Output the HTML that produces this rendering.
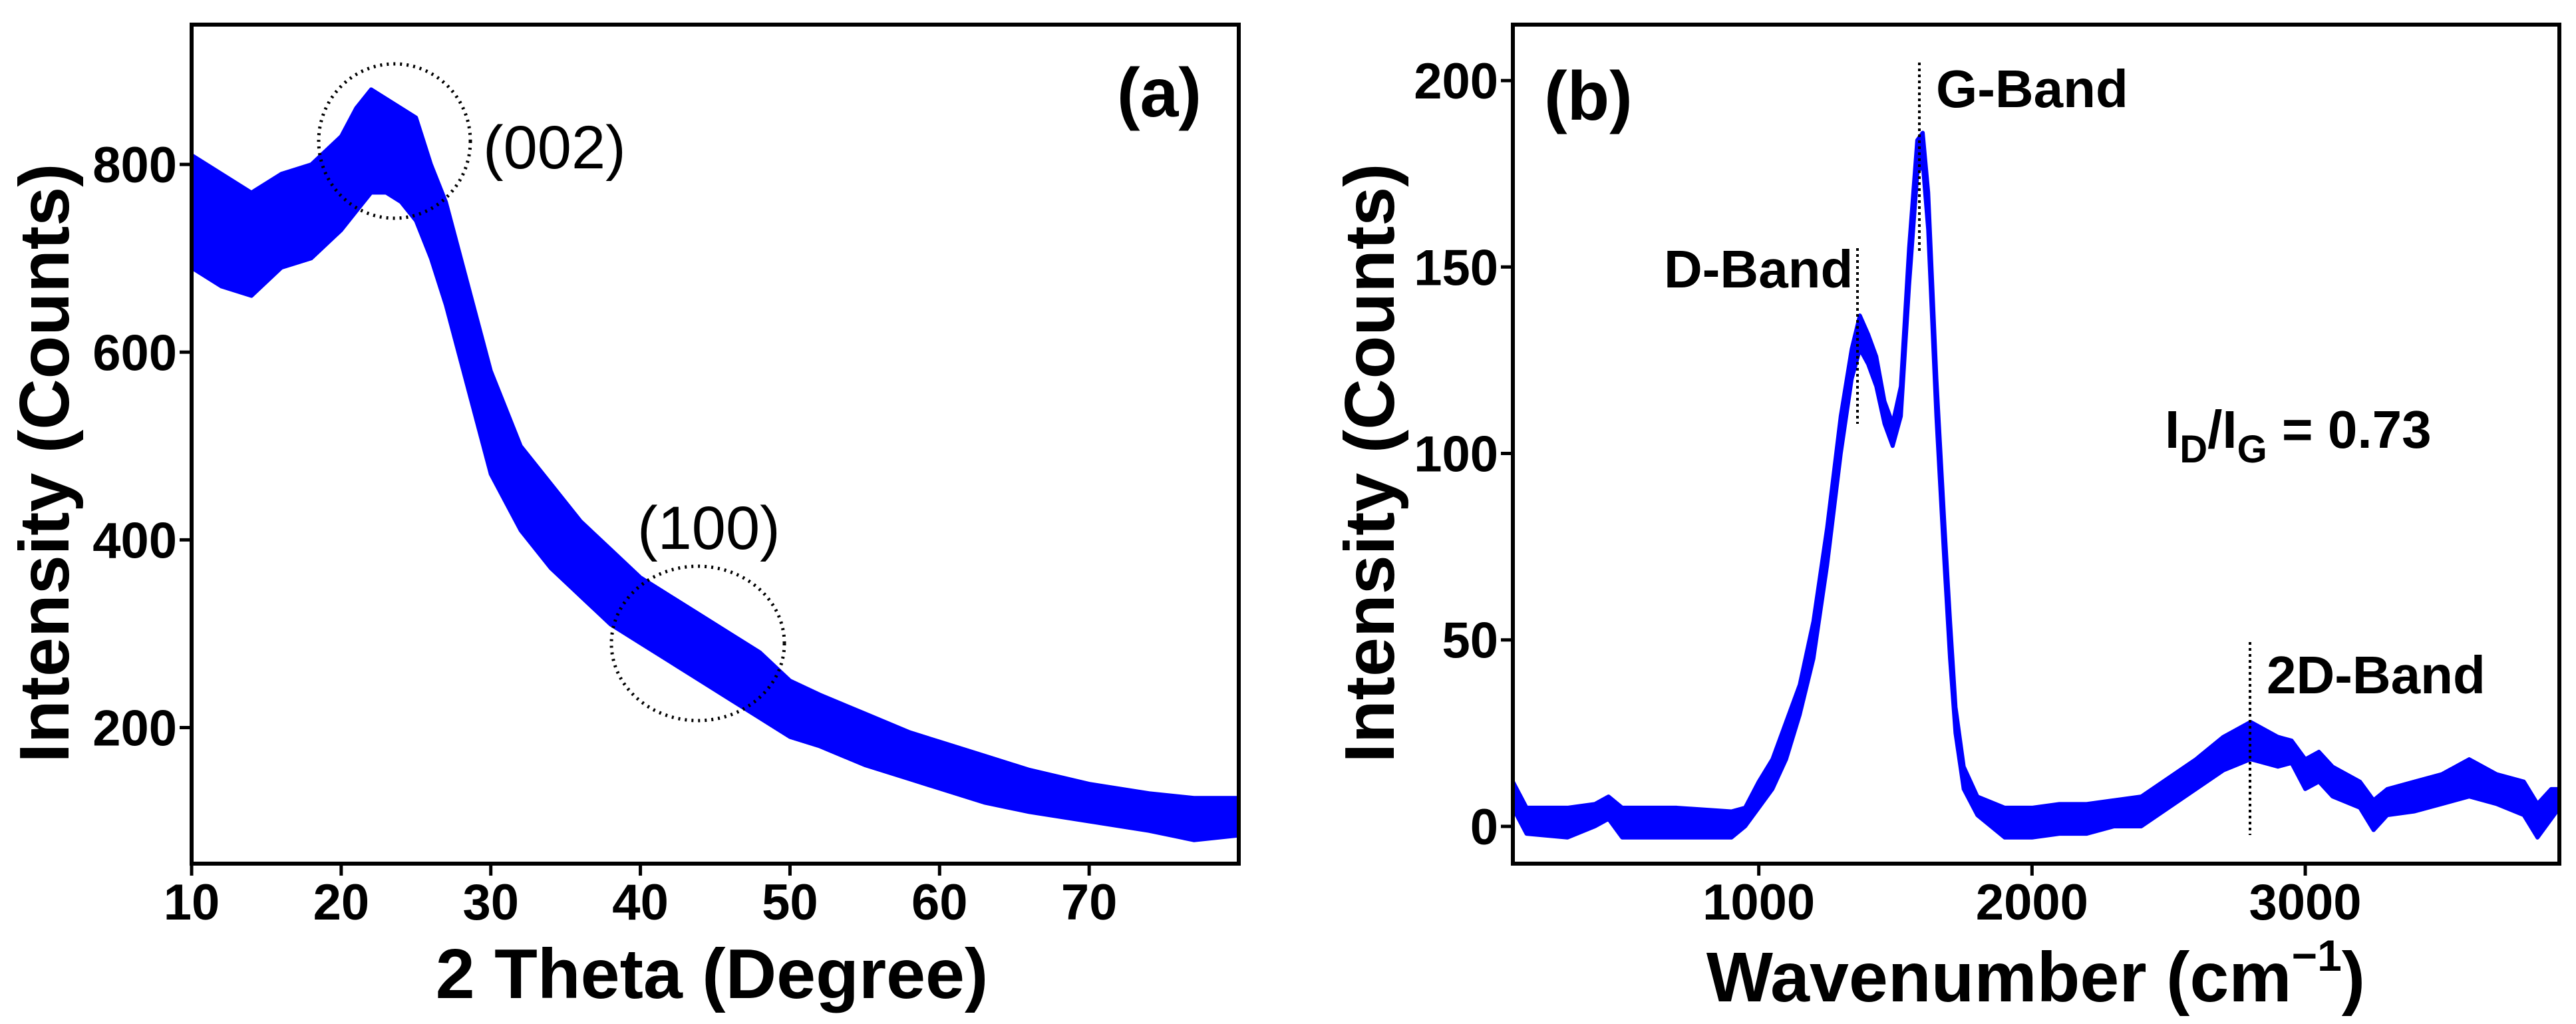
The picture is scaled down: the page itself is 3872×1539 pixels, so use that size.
<!DOCTYPE html>
<html><head><meta charset="utf-8"><style>
html,body{margin:0;padding:0;background:#fff;}
svg{display:block;font-family:"Liberation Sans",Arial,sans-serif;}
</style></head><body>
<svg id="fig" width="3872" height="1539" viewBox="0 0 3872 1539" xmlns="http://www.w3.org/2000/svg">
<rect width="3872" height="1539" fill="#fff"/>
<g id="pa"></g>
<g id="pb"></g>
<g>
<ellipse cx="593" cy="212" rx="114" ry="116" fill="none" stroke="#000" stroke-width="5" stroke-dasharray="3,7"/>
<ellipse cx="1049" cy="967" rx="130" ry="116" fill="none" stroke="#000" stroke-width="5" stroke-dasharray="3,7"/>
<text x="726" y="253" font-size="92">(002)</text>
<text x="958" y="825" font-size="92">(100)</text>
<text x="1806" y="175" font-size="104" font-weight="bold" text-anchor="end">(a)</text>
<text transform="translate(103,696) rotate(-90)" font-size="106" font-weight="bold" text-anchor="middle">Intensity (Counts)</text>
<text x="1070" y="1500" font-size="106" font-weight="bold" text-anchor="middle">2 Theta (Degree)</text>
</g>
<g>
<line x1="2885" y1="94" x2="2885" y2="380" stroke="#000" stroke-width="4" stroke-dasharray="4,5"/>
<line x1="2792" y1="373" x2="2792" y2="637" stroke="#000" stroke-width="4" stroke-dasharray="4,5"/>
<line x1="3382" y1="965" x2="3382" y2="1255" stroke="#000" stroke-width="4" stroke-dasharray="4,5"/>
<text x="2321" y="180" font-size="104" font-weight="bold">(b)</text>
<text x="2910" y="161" font-size="80" font-weight="bold">G-Band</text>
<text x="2501" y="432" font-size="80" font-weight="bold">D-Band</text>
<text x="3407" y="1042" font-size="80" font-weight="bold">2D-Band</text>
<text x="3254" y="673" font-size="80" font-weight="bold">I<tspan font-size="58" dy="22">D</tspan><tspan dy="-22">/I</tspan><tspan font-size="58" dy="22">G</tspan><tspan dy="-22"> = 0.73</tspan></text>
<text transform="translate(2095,696) rotate(-90)" font-size="106" font-weight="bold" text-anchor="middle">Intensity (Counts)</text>
<text x="3060" y="1505" font-size="106" font-weight="bold" text-anchor="middle">Wavenumber (cm<tspan font-size="66" dy="-46">−1</tspan><tspan dy="46">)</tspan></text>
</g>
</svg>
<script>
// Panel (a) XRD data: envelope of noisy trace
const xrdX  = [10,12,14,16,18,20,21,22,23,24,25,26,27,28,29,30,31,32,34,36,38,40,42,44,46,48,50,52,55,58,60,63,66,70,74,77,80];
const xrdLo = [690,670,660,690,700,730,750,770,770,760,740,700,650,590,530,470,440,410,370,340,310,290,270,250,230,210,190,180,160,145,135,120,110,100,90,80,85];
const xrdHi = [810,790,770,790,800,830,860,880,870,860,850,800,760,700,640,580,540,500,460,420,390,360,340,320,300,280,250,235,215,195,185,170,155,140,130,125,125];
const xrdXTicks = [10,20,30,40,50,60,70];
const xrdYTicks = [200,400,600,800];
// Panel (b) Raman data envelope
const ramX  = [100,150,300,400,450,500,700,900,950,1000,1050,1100,1150,1200,1250,1300,1340,1370,1400,1430,1460,1490,1520,1550,1580,1600,1620,1650,1680,1700,1720,1750,1800,1900,2000,2100,2200,2300,2400,2500,2600,2700,2800,2900,2950,3000,3050,3100,3200,3250,3300,3400,3500,3600,3700,3800,3850,3900,3930];
const ramLo = [5,-2,-3,0,2,-3,-3,-3,0,5,10,18,30,45,70,100,120,128,124,118,108,102,110,145,175,178,160,110,70,45,25,10,3,-3,-3,-2,-2,0,0,5,10,15,18,16,17,10,12,8,5,-1,3,4,6,8,6,3,-3,2,5];
const ramHi = [12,5,5,6,8,5,5,4,5,12,18,28,38,55,80,110,128,137,132,126,114,108,118,155,184,186,170,120,80,55,32,16,8,5,5,6,6,7,8,13,18,24,28,24,23,18,20,16,12,7,10,12,14,18,14,12,6,10,10];
const ramXTicks = [1000,2000,3000];
const ramYTicks = [0,50,100,150,200];

const NS="http://www.w3.org/2000/svg";
function mk(parent,tag,attrs){const e=document.createElementNS(NS,tag);for(const k in attrs)e.setAttribute(k,attrs[k]);parent.appendChild(e);return e;}

function panel(g, box, xr, yr, X, LO, HI, xt, yt){
  const sx=v=>box.l+(v-xr[0])/(xr[1]-xr[0])*(box.r-box.l);
  const sy=v=>box.b-(v-yr[0])/(yr[1]-yr[0])*(box.b-box.t);
  let d="M"+sx(X[0])+","+sy(HI[0]);
  for(let i=1;i<X.length;i++) d+="L"+sx(X[i])+","+sy(HI[i]);
  for(let i=X.length-1;i>=0;i--) d+="L"+sx(X[i])+","+sy(LO[i]);
  d+="Z";
  const p=mk(g,"path",{d:d,fill:"#0000ff",stroke:"#0000ff","stroke-width":6,"stroke-linejoin":"round"});
  
  
  const fr=mk(g,"rect",{x:box.l,y:box.t,width:box.r-box.l,height:box.b-box.t,fill:"none",stroke:"#000","stroke-width":6});
  
  
  xt.forEach(v=>{
    const t=mk(g,"line",{x1:sx(v),x2:sx(v),y1:box.b,y2:box.b+18,stroke:"#000","stroke-width":5});
    
    
    const l=mk(g,"text",{x:sx(v),y:box.b+84,"font-size":76,"font-weight":"bold","text-anchor":"middle"});
    l.textContent=v;
    
    
  });
  yt.forEach(v=>{
    const t=mk(g,"line",{x1:box.l-18,x2:box.l,y1:sy(v),y2:sy(v),stroke:"#000","stroke-width":5});
    
    
    const l=mk(g,"text",{x:box.l-22,y:sy(v)+27,"font-size":76,"font-weight":"bold","text-anchor":"end"});
    l.textContent=v;
    
    
  });
}
panel(document.getElementById('pa'),{l:288,r:1862,t:37,b:1298},[10,80],[55,949],xrdX,xrdLo,xrdHi,xrdXTicks,xrdYTicks);
panel(document.getElementById('pb'),{l:2274,r:3847,t:37,b:1298},[100,3930],[-10,215],ramX,ramLo,ramHi,ramXTicks,ramYTicks);
</script>
</body></html>
